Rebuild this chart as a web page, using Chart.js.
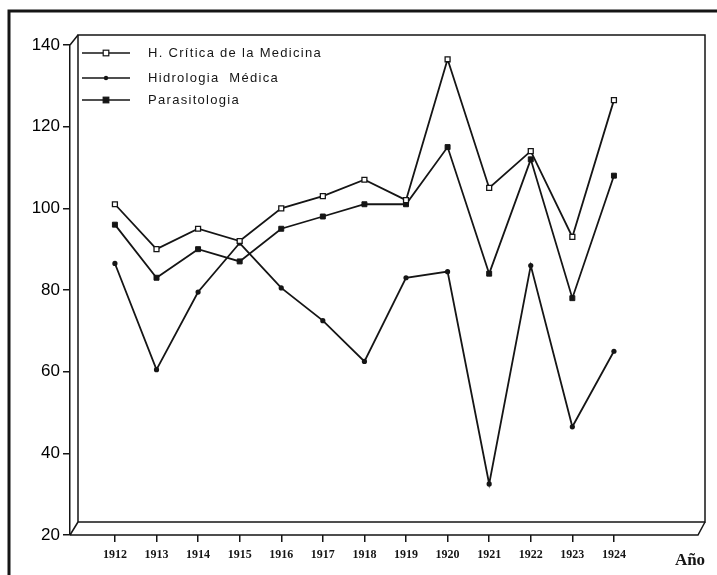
<!DOCTYPE html>
<html>
<head>
<meta charset="utf-8">
<script src="https://cdn.jsdelivr.net/npm/chart.js@4.4.1/dist/chart.umd.min.js"></script>
<style>
  html, body { margin: 0; padding: 0; background: #fff; }
  #wrap { width: 717px; height: 575px; position: relative; }
</style>
</head>
<body>
<div id="wrap"><canvas id="chart" width="717" height="575"></canvas></div>
<script>
const years = [1912, 1913, 1914, 1915, 1916, 1917, 1918, 1919, 1920, 1921, 1922, 1923, 1924];
const critica = [101, 90, 95, 92, 100, 103, 107, 102, 136.5, 105, 114, 93, 126.5];
const hidrologia = [86.5, 60.5, 79.5, 91.5, 80.5, 72.5, 62.5, 83, 84.5, 32.5, 86, 46.5, 65];
const parasitologia = [96, 83, 90, 87, 95, 98, 101, 101, 115, 84, 112, 78, 108];
const yTicks = [20, 40, 60, 80, 100, 120, 140];

const toPoints = vals => vals.map((v, i) => ({ x: years[i], y: v }));
const ink = '#151515';

// 3d-ish box, outer frame, legend and "Año"
const framePlugin = {
    id: 'frame',
    beforeDraw(chart) {
        const { ctx, chartArea: a } = chart;
        ctx.save();
        ctx.fillStyle = '#fff';
        ctx.fillRect(0, 0, chart.width, chart.height);
        ctx.strokeStyle = ink;
        // outer border
        ctx.lineWidth = 3;
        ctx.beginPath();
        ctx.moveTo(9, chart.height + 5);
        ctx.lineTo(9, 11);
        ctx.lineTo(chart.width + 5, 11);
        ctx.stroke();
        // back wall
        ctx.lineWidth = 1.5;
        const dx = 8, dy = 11;
        ctx.strokeRect(a.left + dx, a.top - dy + 1, a.right - a.left - dx, a.bottom - a.top - 3);
        ctx.beginPath();
        ctx.moveTo(a.left, a.top);
        ctx.lineTo(a.left + dx, a.top - dy + 1);
        ctx.moveTo(a.left, a.bottom);
        ctx.lineTo(a.left + dx, a.bottom - dy - 2);
        ctx.moveTo(a.left, a.bottom);
        ctx.lineTo(a.right - 7, a.bottom);
        ctx.lineTo(a.right, a.bottom - dy - 2);
        ctx.stroke();
        ctx.restore();
    },
    afterDraw(chart) {
        const { ctx } = chart;
        ctx.save();
        // legend
        const rows = [53, 78, 100];
        chart.data.datasets.forEach((ds, i) => {
            const y = rows[i];
            ctx.strokeStyle = ink;
            ctx.lineWidth = 1.5;
            ctx.beginPath();
            ctx.moveTo(82, y);
            ctx.lineTo(130, y);
            ctx.stroke();
            ctx.fillStyle = ds.pointBackgroundColor;
            ctx.lineWidth = 1.2;
            const r = ds.pointStyle === 'rect' ? 2.8 : 2.2;
            if (ds.pointStyle === 'rect') {
                ctx.fillRect(106 - r, y - r, 2 * r, 2 * r);
                ctx.strokeRect(106 - r, y - r, 2 * r, 2 * r);
            } else {
                ctx.beginPath();
                ctx.arc(106, y, r, 0, Math.PI * 2);
                ctx.fill();
            }
            ctx.fillStyle = ink;
            ctx.font = '13px "Liberation Sans", Arial, sans-serif';
            ctx.letterSpacing = '1.3px';
            ctx.textBaseline = 'middle';
            ctx.fillText(ds.label, 148, y);
        });
        ctx.letterSpacing = '0px';
        ctx.font = 'bold 17px "Liberation Serif", "Times New Roman", serif';
        ctx.textBaseline = 'middle';
        ctx.textAlign = 'center';
        ctx.fillText('Año', 690, 561);
        ctx.restore();
    }
};

new Chart(document.getElementById('chart'), {
    type: 'line',
    data: {
        datasets: [
            {
                label: 'H. Crítica de la Medicina',
                data: toPoints(critica),
                borderColor: ink,
                borderWidth: 1.8,
                pointStyle: 'rect',
                pointRadius: 3.5,
                pointBackgroundColor: '#fff',
                pointBorderColor: ink,
                pointBorderWidth: 1.3
            },
            {
                label: 'Hidrologia  Médica',
                data: toPoints(hidrologia),
                borderColor: ink,
                borderWidth: 1.8,
                pointStyle: 'circle',
                pointRadius: 2.6,
                pointBackgroundColor: ink,
                pointBorderColor: ink,
                pointBorderWidth: 0
            },
            {
                label: 'Parasitologia',
                data: toPoints(parasitologia),
                borderColor: ink,
                borderWidth: 1.8,
                pointStyle: 'rect',
                pointRadius: 3.5,
                pointBackgroundColor: ink,
                pointBorderColor: ink,
                pointBorderWidth: 1
            }
        ]
    },
    options: {
        responsive: false,
        animation: false,
        layout: { padding: { top: 45, right: 12, left: 0, bottom: 0 } },
        plugins: {
            legend: { display: false },
            tooltip: { enabled: false }
        },
        scales: {
            x: {
                type: 'linear',
                min: years[0] - 1.08,
                max: years[years.length - 1] + 2.19,
                afterBuildTicks: s => { s.ticks = years.map(v => ({ value: v })); },
                afterFit: s => { s.height = 40; },
                grid: { drawOnChartArea: false, drawTicks: true, tickLength: 7, color: ink, lineWidth: 1.5 },
                border: { display: false },
                ticks: {
                    color: ink,
                    padding: 6,
                    maxRotation: 0,
                    autoSkip: false,
                    font: { family: '"Liberation Serif", "Times New Roman", serif', size: 12, weight: 'bold' },
                    callback: v => String(v)
                }
            },
            y: {
                min: 20,
                max: 140,
                afterBuildTicks: s => { s.ticks = yTicks.map(v => ({ value: v })); },
                afterFit: s => { s.width = 70; },
                grid: { drawOnChartArea: false, drawTicks: true, tickLength: 7, color: ink, lineWidth: 1.5 },
                border: { display: true, color: ink, width: 1.5 },
                ticks: {
                    color: '#000',
                    padding: 3,
                    font: { family: '"Liberation Sans", Arial, sans-serif', size: 17 },
                    callback: v => String(v)
                }
            }
        }
    },
    plugins: [framePlugin]
});
</script>
</body>
</html>
